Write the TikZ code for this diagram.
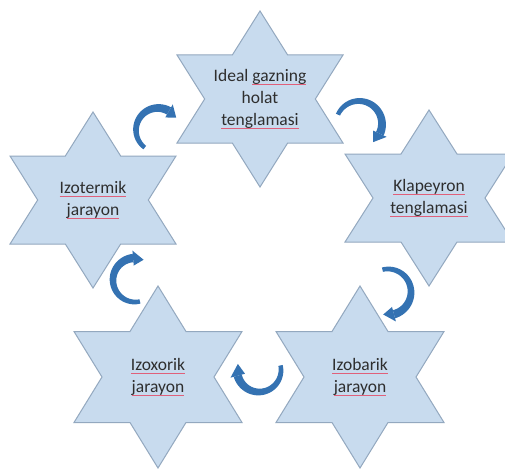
\documentclass[tikz,border=0pt]{standalone}
\usepackage{fontspec}
\setmainfont{Carlito}
\definecolor{starfill}{HTML}{C8DBEE}
\definecolor{starline}{HTML}{93A8BF}
\definecolor{arrowblue}{HTML}{3472B2}
\definecolor{txt}{HTML}{2E2E2E}
\definecolor{sqred}{HTML}{E0607A}
\tikzset{
  starbox/.style={fill=starfill, draw=starline, line width=1pt, line join=miter},
  lbl/.style={align=center, text=txt, font=\fontsize{17.5}{22}\selectfont, inner sep=0pt},
  arrowfill/.style={fill=arrowblue},
}
\newcommand\squig[1]{\setbox0\hbox{#1}\rlap{\color{sqred}\rule[-3.5pt]{\wd0}{0.9pt}}\box0}
\newcommand\hexstar[3]{%
  \begin{scope}[shift={(#1)}]
    \path[starbox] (0,-#2) -- ({#3/3},{-#2/2}) -- (#3,{-#2/2}) -- ({2*#3/3},0)
      -- (#3,{#2/2}) -- ({#3/3},{#2/2}) -- (0,#2) -- ({-#3/3},{#2/2})
      -- (-#3,{#2/2}) -- ({-2*#3/3},0) -- (-#3,{-#2/2}) -- ({-#3/3},{-#2/2}) -- cycle;
  \end{scope}}
\newcommand\bendarrow[5]{%
  \begin{scope}[shift={(#1)}]
    \fill[arrowfill] plot[domain=#3:#4,samples=40]
      ({(#2+2.2+2.0*(\x-#3)/(#4-#3))*cos(\x)},{(#2+2.2+2.0*(\x-#3)/(#4-#3))*sin(\x)})
      -- plot[domain=#4:#3,samples=40]
      ({(#2-2.2-2.0*(\x-#3)/(#4-#3))*cos(\x)},{(#2-2.2-2.0*(\x-#3)/(#4-#3))*sin(\x)})
      -- cycle;
    \fill[arrowfill] ({(#2+7.5)*cos(#4)},{(#2+7.5)*sin(#4)}) -- ({#2*cos(#5)},{#2*sin(#5)})
      -- ({(#2-7.5)*cos(#4)},{(#2-7.5)*sin(#4)}) -- cycle;
  \end{scope}}
\begin{document}
\begin{tikzpicture}[x=1pt,y=-1pt]
  \fill[white] (0,0) rectangle (505,468);
  \useasboundingbox (0,0) rectangle (505,468);
  % star centres
  \coordinate (top) at (260,99);
  \coordinate (left) at (93,200);
  \coordinate (right) at (429,198);
  \coordinate (bl) at (158,377);
  \coordinate (br) at (360,377);
  \hexstar{top}{88}{83}
  \hexstar{left}{88}{83}
  \hexstar{right}{88}{84}
  \hexstar{bl}{91}{84}
  \hexstar{br}{91}{84}
  \node[lbl] (topT) at (top) {Ideal \squig{gazning}\\holat\\\squig{tenglamasi}};
  \node[lbl] (leftT) at (left) {\squig{Izotermik}\\\squig{jarayon}};
  \node[lbl] (rightT) at (right) {\squig{Klapeyron}\\\squig{tenglamasi}};
  \node[lbl] (blT) at (bl) {\squig{Izoxorik}\\\squig{jarayon}};
  \node[lbl] (brT) at (br) {\squig{Izobarik}\\\squig{jarayon}};
  % arrow centres
  \coordinate (a1) at (158,130);
  \coordinate (a2) at (359,124);
  \coordinate (a3) at (388,292);
  \coordinate (a4) at (259,370);
  \coordinate (a5) at (135,280);
  \bendarrow{a1}{22}{127}{300}{326}
  \bendarrow{a2}{23}{204}{385}{412}
  \bendarrow{a3}{23}{256}{435}{462}
  \bendarrow{a4}{22}{348}{525}{556}
  \bendarrow{a5}{22}{77}{265}{293}
\end{tikzpicture}
\end{document}
